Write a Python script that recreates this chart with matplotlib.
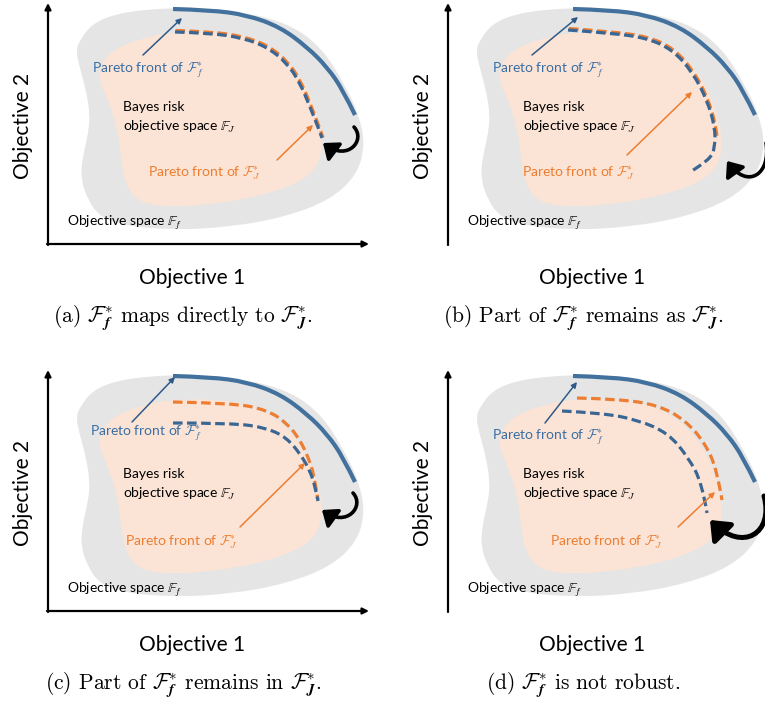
import matplotlib.pyplot as plt
import numpy as np
from matplotlib.path import Path
from matplotlib.patches import PathPatch, FancyArrowPatch

plt.rcParams["mathtext.fontset"] = "cm"
plt.rcParams["font.family"] = ["Lato", "DejaVu Sans"]

# --- shapes (local units, origin at the axis corner) ---
GRAY_X = [32, 44, 67, 102, 142, 192, 242, 274, 297, 311, 317, 309, 282, 237, 182, 127, 77, 52, 40, 33, 34, 40, 42, 38, 31, 28]
GRAY_Y = [204, 220, 230, 235, 236, 233, 220, 196, 159, 129, 99, 69, 44, 27, 17, 14, 18, 27, 44, 64, 84, 109, 129, 154, 179, 194]

ORANGE_X = [52, 67, 102, 132, 182, 222, 250, 267, 274, 273, 257, 217, 162, 112, 87, 76, 73, 69, 60, 51]
ORANGE_Y = [179, 196, 208, 212, 211, 199, 172, 139, 109, 84, 64, 49, 39, 37, 44, 64, 89, 116, 144, 164]

# Pareto front of F_f* (solid, same in every panel)
FRONT_F_X = [125, 162, 199, 232, 259, 279, 295, 307]
FRONT_F_Y = [235, 234, 229, 217, 197, 177, 154, 129]

# Pareto front of F_J* (orange dashed) per panel
J_A_X = [127.5, 162.5, 196, 220, 240, 253, 263, 271, 275]
J_A_Y = [213.5, 212.5, 207.5, 198.5, 182.5, 162.5, 138.5, 117.5, 106.5]
J_B_X = [121, 162, 200, 226, 246, 260, 268, 269]
J_B_Y = [215.5, 212.5, 207.5, 195.5, 172.5, 145.5, 118, 107]
J_C_X = [125, 185, 219, 239, 252, 260, 266, 270]
J_C_Y = [209, 208, 201, 188, 171, 154, 137, 111]
J_D_X = [129, 170, 210, 237, 257, 269, 274]
J_D_Y = [213, 212, 206, 191, 168, 141, 111]

# mapped F_f* front (blue dashed) per panel
M_A_X = [127, 162, 195, 219, 239, 252, 262, 270, 274]
M_A_Y = [212, 211, 206, 197, 181, 161, 137, 117, 106]
M_B_X = [120, 162, 199, 225, 245, 259, 267, 267, 262, 242]
M_B_Y = [214, 211, 206, 194, 171, 144, 117, 97, 84, 72]
M_C_X = [125, 185, 219, 239, 253, 262, 267, 270]
M_C_Y = [188, 188, 183, 173, 156, 140, 125, 110]
M_D_X = [114, 154, 190, 220, 240, 254, 259]
M_D_Y = [200, 198, 191, 178, 154, 128, 98]

# curled black arrow (cubic control points) per panel
CURL_A_X = [306, 318, 300, 275]
CURL_A_Y = [117, 104, 82, 101]
CURL_B_X = [318, 323, 300, 279]
CURL_B_Y = [101, 70, 54, 83]
CURL_C_X = [305, 317, 299, 274]
CURL_C_Y = [118, 105, 83, 101]
CURL_D_X = [316, 326, 295, 262]
CURL_D_Y = [115, 78, 58, 91]

CAPTIONS = [
    r"(a) $\mathcal{F}_{\mathbfit{f}}^{*}$ maps directly to $\mathcal{F}_{\mathbfit{J}}^{*}$.",
    r"(b) Part of $\mathcal{F}_{\mathbfit{f}}^{*}$ remains as $\mathcal{F}_{\mathbfit{J}}^{*}$.",
    r"(c) Part of $\mathcal{F}_{\mathbfit{f}}^{*}$ remains in $\mathcal{F}_{\mathbfit{J}}^{*}$.",
    r"(d) $\mathcal{F}_{\mathbfit{f}}^{*}$ is not robust.",
]

J_FRONTS = [(J_A_X, J_A_Y), (J_B_X, J_B_Y), (J_C_X, J_C_Y), (J_D_X, J_D_Y)]
M_FRONTS = [(M_A_X, M_A_Y), (M_B_X, M_B_Y), (M_C_X, M_C_Y), (M_D_X, M_D_Y)]
CURLS = [(CURL_A_X, CURL_A_Y), (CURL_B_X, CURL_B_Y), (CURL_C_X, CURL_C_Y), (CURL_D_X, CURL_D_Y)]

# layout: (blue label, blue arrow tail->head, orange label, orange arrow tail->head)
BLUE_LBL = [(44, 174), (44, 174), (42, 178), (44, 174)]
BLUE_ARR = [((95, 189), (134, 226)), ((84, 189), (130, 227)), ((84, 189), (127, 234)), ((97, 188), (129, 229))]
ORNG_LBL = [(100, 71), (74, 71), (77, 69), (102, 69)]
ORNG_ARR = [((229, 84), (265, 119)), ((179, 89), (244, 152)), ((192, 84), (257, 148)), ((230, 84), (267, 119))]
CURL_LW = [2.6, 2.6, 2.6, 3.6]

GRAY = "#E5E5E5"
PEACH = "#FBE4D5"
BLUE = "#41719C"
BLUE_DASH = "#3A6694"
BLUE_TXT = "#3A6EA5"
ORANGE = "#ED7D31"


def smooth_path(xs, ys, closed=False):
    pts = np.column_stack([xs, ys]).astype(float)
    n = len(pts)
    if closed:
        mids = (pts + np.roll(pts, -1, axis=0)) / 2
        verts, codes = [mids[-1]], [Path.MOVETO]
        for i in range(n):
            verts += [pts[i], mids[i]]
            codes += [Path.CURVE3, Path.CURVE3]
        verts.append(mids[-1])
        codes.append(Path.CLOSEPOLY)
    else:
        verts, codes = [pts[0]], [Path.MOVETO]
        for i in range(1, n - 1):
            end = pts[-1] if i == n - 2 else (pts[i] + pts[i + 1]) / 2
            verts += [pts[i], end]
            codes += [Path.CURVE3, Path.CURVE3]
    return Path(verts, codes)


def draw_panel(ax, k):
    ax.add_patch(PathPatch(smooth_path(GRAY_X, GRAY_Y, True), fc=GRAY, ec="none"))
    ax.add_patch(PathPatch(smooth_path(ORANGE_X, ORANGE_Y, True), fc=PEACH, ec="none"))
    ax.add_patch(PathPatch(smooth_path(FRONT_F_X, FRONT_F_Y), fill=False, ec=BLUE, lw=3.0, capstyle="butt"))
    dash = (0, (3.0, 1.4))
    jx, jy = J_FRONTS[k]
    ax.add_patch(PathPatch(smooth_path(jx, jy), fill=False, ec=ORANGE, lw=2.3, ls=dash, capstyle="butt"))
    mx, my = M_FRONTS[k]
    ax.add_patch(PathPatch(smooth_path(mx, my), fill=False, ec=BLUE_DASH, lw=2.3, ls=dash, capstyle="butt"))

    # axes arrows
    ax.annotate("", xy=(0, 241), xytext=(0, -1),
                arrowprops=dict(arrowstyle="-|>", lw=1.6, color="black", mutation_scale=9, shrinkA=0, shrinkB=0))
    ax.annotate("", xy=(321, 0), xytext=(-1, 0),
                arrowprops=dict(arrowstyle="-|>", lw=1.6, color="black", mutation_scale=9, shrinkA=0, shrinkB=0))
    ax.text(144, -34, "Objective 1", fontsize=15, ha="center", va="center")
    ax.text(-25, 118, "Objective 2", fontsize=15, ha="center", va="center", rotation=90)

    ax.text(*BLUE_LBL[k], r"Pareto front of $\mathcal{F}_{f}^{*}$", color=BLUE_TXT, fontsize=10, ha="left", va="center")
    (t0, t1) = BLUE_ARR[k]
    ax.annotate("", xy=t1, xytext=t0,
                arrowprops=dict(arrowstyle="-|>", lw=1.1, color="#2F5A88", mutation_scale=8, shrinkA=0, shrinkB=0))
    ax.text(*ORNG_LBL[k], r"Pareto front of $\mathcal{F}_{J}^{*}$", color=ORANGE, fontsize=10, ha="left", va="center")
    (t0, t1) = ORNG_ARR[k]
    ax.annotate("", xy=t1, xytext=t0,
                arrowprops=dict(arrowstyle="-|>", lw=1.1, color=ORANGE, mutation_scale=8, shrinkA=0, shrinkB=0))

    ax.text(75, 137, "Bayes risk", fontsize=10, ha="left", va="center")
    ax.text(75, 117, r"objective space $\mathbb{F}_{J}$", fontsize=10, ha="left", va="center")
    ax.text(19, 21, r"Objective space $\mathbb{F}_{f}$", fontsize=10, ha="left", va="center")

    cx, cy = CURLS[k]
    curl = Path(np.column_stack([cx, cy]), [Path.MOVETO, Path.CURVE4, Path.CURVE4, Path.CURVE4])
    ax.add_patch(FancyArrowPatch(path=curl, arrowstyle="-|>,head_length=0.55,head_width=0.45",
                                 mutation_scale=15 if k < 3 else 19, lw=CURL_LW[k], color="black"))

    ax.text(135, -74, CAPTIONS[k], fontsize=15.5, family="cmr10", ha="center", va="center")


fig = plt.figure(figsize=(7.65, 7.06), dpi=100)
W, H = 765, 706
# panel boxes in pixels: (left, top, width, height, origin_x, origin_y)
boxes = [(0, 0, 383, 353, 48, 244), (383, 0, 382, 353, 448, 244),
         (0, 353, 383, 353, 48, 611), (383, 353, 382, 353, 448, 611)]
for k, (l, t, w, h, ox, oy) in enumerate(boxes):
    ax = fig.add_axes([l / W, 1 - (t + h) / H, w / W, h / H])
    ax.set_xlim(l - ox, l + w - ox)
    ax.set_ylim(oy - (t + h), oy - t)
    ax.set_axis_off()
    draw_panel(ax, k)

fig.savefig("out.png", dpi=100)
